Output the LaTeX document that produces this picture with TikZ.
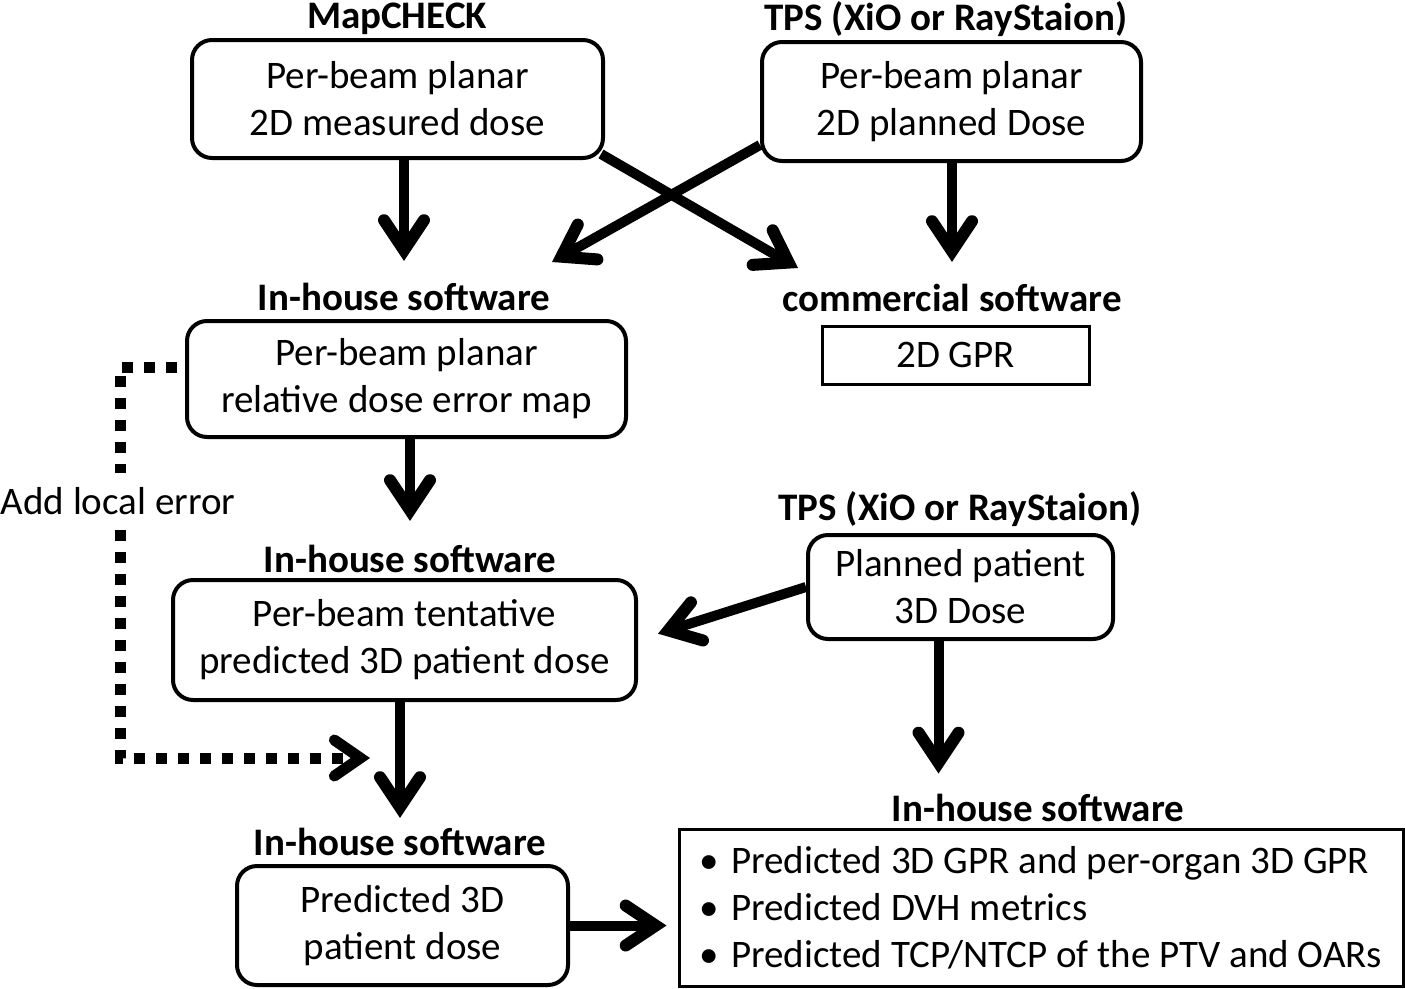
\documentclass[tikz,border=0pt]{standalone}
\usepackage{fontspec}
\setmainfont{Carlito}
\usetikzlibrary{arrows.meta}

\newcommand{\bodysize}{\fontsize{39}{47}\selectfont}

\tikzset{
  rbox/.style={draw, line width=4pt, rounded corners=20pt, align=center, inner sep=0pt, font=\bodysize},
  sbox/.style={draw, line width=3pt, inner sep=0pt, font=\bodysize},
  title/.style={inner sep=2pt, font=\bodysize\bfseries},
  arr/.style={line width=10pt, -{Straight Barb[length=30pt,width=40pt,line width=12pt,line cap=round,line join=miter]}},
  dotarr/.style={line width=11pt, dash pattern=on 11pt off 11pt, -{Straight Barb[length=26pt,width=36pt,line width=11pt,line cap=round,line join=miter]}}
}

\begin{document}
\begin{tikzpicture}[x=1pt, y=-1pt]
\useasboundingbox (0,0) rectangle (1405,988);

% top row
\node[title] (mapcheck) at (397,19) {MapCHECK};
\node[rbox, minimum width=411pt, minimum height=118pt] (measured) at (397.5,99) {Per-beam planar\\2D measured dose};
\node[title] (tpstop) at (946,19) {TPS (XiO or RayStaion)};
\node[rbox, minimum width=379pt, minimum height=119pt] (planbeam) at (951.5,101.5) {Per-beam planar\\2D planned Dose};

% second row
\node[title] (inhouse1) at (404,297) {In-house software};
\node[rbox, minimum width=439pt, minimum height=116pt] (relerr) at (406.5,379) {Per-beam planar\\relative dose error map};
\node[title] (commercial) at (952,298) {commercial software};
\node[sbox, minimum width=267pt, minimum height=58pt] (gpr2d) at (955.5,355) {2D GPR};

% third row
\node[title] (inhouse2) at (410,559) {In-house software};
\node[rbox, minimum width=463pt, minimum height=120pt] (tentative) at (404.5,640) {Per-beam tentative\\predicted 3D patient dose};
\node[title] (tpsmid) at (960,509) {TPS (XiO or RayStaion)};
\node[rbox, minimum width=305pt, minimum height=104pt] (planned) at (960.5,587) {Planned patient\\3D Dose};

% bottom row
\node[title] (inhouse3) at (400,842) {In-house software};
\node[rbox, minimum width=331pt, minimum height=119pt] (final) at (402.5,925.5) {Predicted 3D\\patient dose};
\node[title] (inhouse4) at (1038,808) {In-house software};
\node[sbox, minimum width=724pt, minimum height=157pt, align=left] (predict) at (1041,907.5)
  {\textbullet\hspace{12pt}Predicted 3D GPR and per-organ 3D GPR\\
   \textbullet\hspace{12pt}Predicted DVH metrics\\
   \textbullet\hspace{12pt}Predicted TCP/NTCP of the PTV and OARs};

% free arrow ends
\coordinate (tipcomm) at (798,268);
\coordinate (tipin) at (552,262);
\coordinate (dtop) at (120,367);
\coordinate (dbot) at (120,758);
\coordinate (dtip) at (370,758);

% connectors
\draw[arr, shorten >=20pt] (measured.south -| inhouse1.north) -- (inhouse1.north);
\draw[arr, shorten >=20pt] (planbeam.south -| commercial.north) -- (commercial.north);
\draw[arr] ([xshift=-4pt,yshift=6pt]measured.south east) -- (tipcomm);
\draw[arr] ([yshift=18pt]planbeam.south west) -- (tipin);
\draw[arr, shorten >=22pt] (relerr.south -| inhouse2.north) -- (inhouse2.north);
\draw[arr, shorten >=21pt] (planned.west) -- (tentative.east);
\draw[arr, shorten >=54pt] ([xshift=-22pt]planned.south) -- ([xshift=-22pt]planned.south |- predict.north);
\draw[arr, shorten >=8pt] (tentative.south -| inhouse3.north) -- (inhouse3.north);
\draw[arr, shorten >=11pt] (final.east) -- (final.east -| predict.west);

\draw[dotarr, shorten <=8pt] ([yshift=12pt]relerr.west) -- (dtop) -- (dbot) -- (dtip);
\node[fill=white, inner ysep=14pt, inner xsep=0pt, font=\bodysize] (addlocal) at (118,501) {Add local error};
\end{tikzpicture}
\end{document}
